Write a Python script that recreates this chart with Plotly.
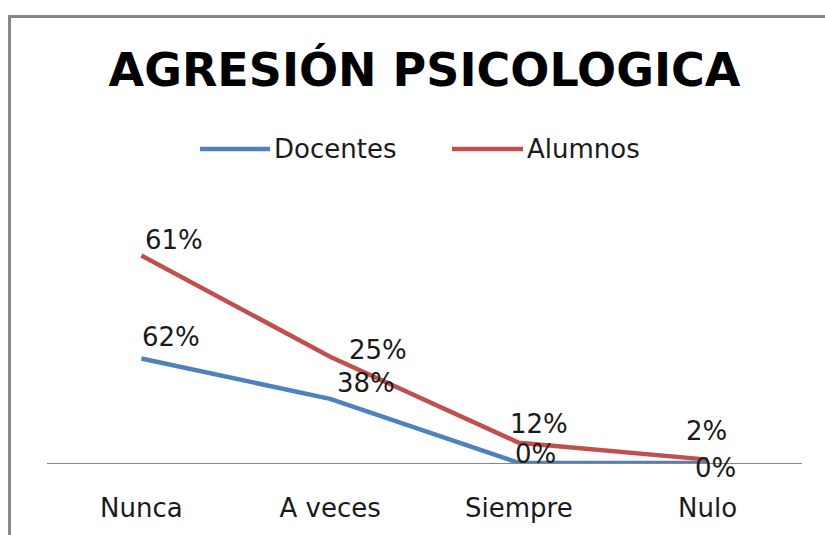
import plotly.graph_objects as go

# data (stacked line, labels show each series' own value)
categorias = ['Nunca', 'A veces', 'Siempre', 'Nulo']
docentes = [62, 38, 0, 0]
alumnos = [61, 25, 12, 2]
etiquetas_doc = ['62%', '38%', '0%', '0%']
etiquetas_alu = ['61%', '25%', '12%', '2%']

AZUL = '#4F81BD'
ROJO = '#C0504D'
FUENTE = 'DejaVu Sans'

# plot area in pixels: x 47..802, y 210..467
L, R, T, B = 47, 23, 210, 68
W, H = 825 - L - R, 535 - T - B


def px(x):
    return (x - L) / W


def py(y):
    return (535 - B - y) / H


fig = go.Figure()
fig.add_trace(go.Scatter(
    x=categorias, y=docentes, name='Docentes', stackgroup='a', fill='none',
    mode='lines', line=dict(color=AZUL, width=4.5), showlegend=False))
fig.add_trace(go.Scatter(
    x=categorias, y=alumnos, name='Alumnos', stackgroup='a', fill='none',
    mode='lines', line=dict(color=ROJO, width=4.5), showlegend=False))

# data labels, nudged like in the original (pixel offsets from each point)
desp_doc = [(-1, 21), (5, 16), (-6, 9), (-15, -5)]
desp_alu = [(2, 16), (17, 7), (-11, 19), (-24, 29)]

annotations = []
for i, cat in enumerate(categorias):
    for y, txt, (dx, dy) in [
        (docentes[i], etiquetas_doc[i], desp_doc[i]),
        (docentes[i] + alumnos[i], etiquetas_alu[i], desp_alu[i]),
    ]:
        annotations.append(dict(
            x=cat, y=y, text=txt, showarrow=False, xanchor='left', yanchor='middle',
            xshift=dx, yshift=dy, font=dict(family=FUENTE, size=26, color='#1a1a1a')))

# legend drawn by hand so the line samples are as long as in the original
shapes = [
    dict(type='rect', xref='paper', yref='paper',
         x0=px(9.5), x1=px(840), y0=py(13.5), y1=py(560),
         line=dict(color='#878787', width=3)),
    dict(type='line', xref='paper', yref='paper',
         x0=px(200), x1=px(270), y0=py(148), y1=py(148),
         line=dict(color=AZUL, width=4.5)),
    dict(type='line', xref='paper', yref='paper',
         x0=px(452), x1=px(523), y0=py(148), y1=py(148),
         line=dict(color=ROJO, width=4.5)),
]
annotations += [
    dict(text='Docentes', xref='paper', yref='paper', x=px(272), y=py(148),
         xanchor='left', yanchor='middle', showarrow=False,
         font=dict(family=FUENTE, size=26, color='#1a1a1a')),
    dict(text='Alumnos', xref='paper', yref='paper', x=px(525), y=py(148),
         xanchor='left', yanchor='middle', showarrow=False,
         font=dict(family=FUENTE, size=26, color='#1a1a1a')),
]

fig.update_layout(
    width=825, height=535,
    margin=dict(l=L, r=R, t=T, b=B),
    paper_bgcolor='white', plot_bgcolor='white',
    title=dict(text='<b>AGRESIÓN PSICOLOGICA</b>', xref='container', yref='container',
               x=424.5 / 825, y=1 - 70 / 535, xanchor='center', yanchor='middle',
               font=dict(family=FUENTE, size=46, color='black')),
    shapes=shapes, annotations=annotations,
    showlegend=False,
)
fig.update_xaxes(range=[-0.5, 3.5], showgrid=False, zeroline=False,
                 showline=True, linecolor='#888888', linewidth=1,
                 ticks='outside', ticklen=22, tickcolor='rgba(0,0,0,0)',
                 tickfont=dict(family=FUENTE, size=26, color='#1a1a1a'))
fig.update_yaxes(range=[0, 150], visible=False)

fig.write_html('out.html', config={'displayModeBar': False},
               post_script="document.body.style.margin='0';document.body.style.overflow='hidden';")
